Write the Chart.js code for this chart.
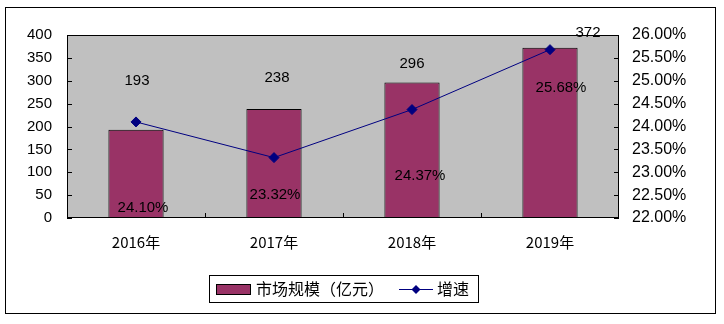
<!DOCTYPE html>
<html lang="zh-CN">
<head>
    <meta charset="UTF-8">
    <title>市场规模及增速</title>
    <style>
        html, body { margin: 0; padding: 0; background: #fff; }
        #chartBox { position: relative; width: 724px; height: 324px; }
    </style>
</head>
<body>
    <div id="chartBox">
        <canvas id="myChart" width="724" height="324"></canvas>
    </div>

    <script src="https://cdn.jsdelivr.net/npm/chart.js"></script>
    <script>
        // chart data
        var years = ['2016年', '2017年', '2018年', '2019年'];
        var marketSize = [193, 238, 296, 372];          // 亿元
        var growthRate = [24.10, 23.32, 24.37, 25.68];  // %

        // where the value labels sit relative to their mark (px)
        var sizeLabelShift = [[1, -49], [3, -31], [0, -19], [38, -15]];
        var rateLabelShift = [[7, 86], [1, 37], [8, 66], [11, 38]];

        var numFont = '"Liberation Sans", Arial, "Noto Sans CJK SC", sans-serif';
        var cjkFont = '"Noto Sans CJK SC", "Liberation Sans", sans-serif';

        // grey plot area, frame, inner tick marks and the outer border
        var framePlugin = {
            id: 'frame',
            beforeDraw: function (chart) {
                var ctx = chart.ctx, a = chart.chartArea;
                ctx.save();
                ctx.fillStyle = '#c0c0c0';
                ctx.fillRect(a.left, a.top, a.right - a.left, a.bottom - a.top);
                ctx.restore();
            },
            afterDatasetsDraw: function (chart) {
                var ctx = chart.ctx, a = chart.chartArea;
                ctx.save();
                ctx.strokeStyle = '#000';
                ctx.lineWidth = 1;
                ctx.strokeRect(Math.round(a.left) + 0.5, Math.round(a.top) + 0.5,
                    Math.round(a.right - a.left) - 1, Math.round(a.bottom - a.top) - 1);

                ctx.beginPath();
                var y = chart.scales.y, y1 = chart.scales.y1, x = chart.scales.x;
                y.ticks.forEach(function (t) {
                    var py = Math.round(y.getPixelForValue(t.value)) + 0.5;
                    ctx.moveTo(a.left, py); ctx.lineTo(a.left + 5, py);
                });
                y1.ticks.forEach(function (t) {
                    var py = Math.round(y1.getPixelForValue(t.value)) + 0.5;
                    ctx.moveTo(a.right - 5, py); ctx.lineTo(a.right, py);
                });
                for (var i = 1; i < years.length; i++) {
                    var px = Math.round((x.getPixelForValue(i - 1) + x.getPixelForValue(i)) / 2) + 0.5;
                    ctx.moveTo(px, a.bottom); ctx.lineTo(px, a.bottom - 5);
                }
                ctx.stroke();
                ctx.restore();
            },
            afterDraw: function (chart) {
                var ctx = chart.ctx;
                ctx.save();
                ctx.strokeStyle = '#000';
                ctx.lineWidth = 1;
                ctx.strokeRect(5.5, 7.5, 710, 306);
                ctx.restore();
            }
        };

        // value labels for bars and line points
        var labelPlugin = {
            id: 'valueLabels',
            afterDatasetsDraw: function (chart) {
                var ctx = chart.ctx;
                ctx.save();
                ctx.font = '15px ' + numFont;
                ctx.fillStyle = '#000';
                ctx.textAlign = 'center';
                ctx.textBaseline = 'middle';
                chart.getDatasetMeta(1).data.forEach(function (el, i) {
                    var s = sizeLabelShift[i];
                    ctx.fillText(String(marketSize[i]), el.x + s[0], el.y + s[1]);
                });
                chart.getDatasetMeta(0).data.forEach(function (el, i) {
                    var s = rateLabelShift[i];
                    ctx.fillText(growthRate[i].toFixed(2) + '%', el.x + s[0], el.y + s[1]);
                });
                ctx.restore();
            }
        };

        // boxed legend under the chart
        var legendPlugin = {
            id: 'boxLegend',
            afterDraw: function (chart) {
                var ctx = chart.ctx;
                var bar = chart.data.datasets[1], line = chart.data.datasets[0];
                ctx.save();
                ctx.fillStyle = '#fff';
                ctx.fillRect(209, 275, 269, 27);
                ctx.strokeStyle = '#000';
                ctx.lineWidth = 1;
                ctx.strokeRect(209.5, 275.5, 269, 27);

                ctx.fillStyle = bar.backgroundColor;
                ctx.fillRect(216, 284, 34, 10);
                ctx.strokeRect(216.5, 284.5, 34, 10);

                ctx.font = '16px ' + cjkFont;
                ctx.fillStyle = '#000';
                ctx.textBaseline = 'middle';
                ctx.textAlign = 'left';
                ctx.fillText(bar.label, 256, 289);

                ctx.strokeStyle = line.borderColor;
                ctx.beginPath();
                ctx.moveTo(399, 289.5); ctx.lineTo(433, 289.5);
                ctx.stroke();
                ctx.fillStyle = line.pointBackgroundColor;
                ctx.beginPath();
                ctx.moveTo(416, 285); ctx.lineTo(420.5, 289.5);
                ctx.lineTo(416, 294); ctx.lineTo(411.5, 289.5);
                ctx.closePath();
                ctx.fill();

                ctx.fillStyle = '#000';
                ctx.fillText(line.label, 437, 289);
                ctx.restore();
            }
        };

        var ctx = document.getElementById('myChart').getContext('2d');
        new Chart(ctx, {
            type: 'bar',
            data: {
                labels: years,
                datasets: [
                    {
                        type: 'line',
                        label: '增速',
                        data: growthRate,
                        yAxisID: 'y1',
                        borderColor: '#000080',
                        borderWidth: 1,
                        pointStyle: 'rectRot',
                        pointRadius: 5,
                        pointBackgroundColor: '#000080',
                        pointBorderColor: '#000080',
                        tension: 0,
                        order: 0
                    },
                    {
                        type: 'bar',
                        label: '市场规模（亿元）',
                        data: marketSize,
                        yAxisID: 'y',
                        backgroundColor: '#993366',
                        borderColor: '#000',
                        borderWidth: 1,
                        borderSkipped: false,
                        barPercentage: 0.4,
                        categoryPercentage: 1,
                        order: 1
                    }
                ]
            },
            options: {
                responsive: false,
                animation: false,
                layout: { padding: { top: 35, left: 0, right: 0, bottom: 0 } },
                plugins: {
                    legend: { display: false },
                    tooltip: { enabled: false }
                },
                scales: {
                    x: {
                        grid: { display: false, drawTicks: false },
                        border: { display: false },
                        ticks: {
                            color: '#000',
                            padding: 15,
                            font: { family: cjkFont, size: 15 }
                        },
                        afterFit: function (s) { s.height = 106; }
                    },
                    y: {
                        position: 'left',
                        min: 0,
                        max: 400,
                        grid: { display: false, drawTicks: false },
                        border: { display: false },
                        ticks: {
                            stepSize: 50,
                            color: '#000',
                            padding: 15,
                            font: { family: numFont, size: 15 }
                        },
                        afterFit: function (s) { s.width = 67; }
                    },
                    y1: {
                        position: 'right',
                        min: 22,
                        max: 26,
                        grid: { display: false, drawTicks: false },
                        border: { display: false },
                        ticks: {
                            stepSize: 0.5,
                            color: '#000',
                            padding: 13,
                            font: { family: numFont, size: 16 },
                            callback: function (v) { return v.toFixed(2) + '%'; }
                        },
                        afterFit: function (s) { s.width = 105; }
                    }
                }
            },
            plugins: [framePlugin, labelPlugin, legendPlugin]
        });
    </script>
</body>
</html>
